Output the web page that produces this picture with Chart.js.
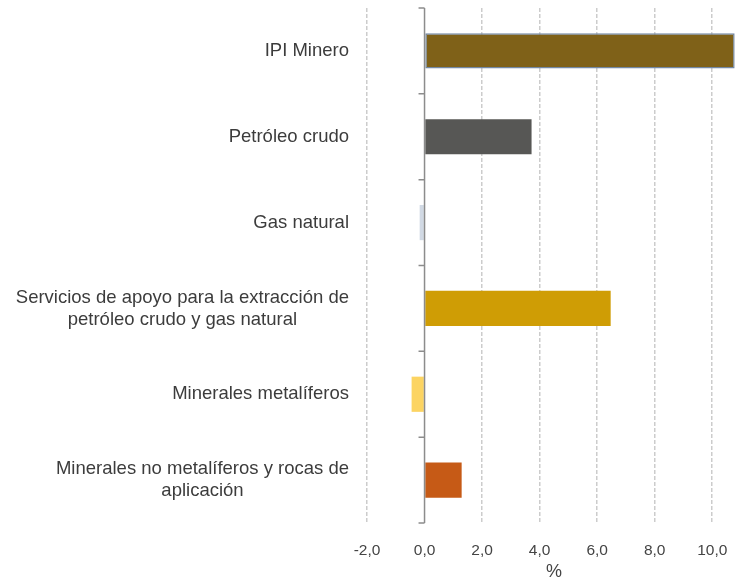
<!DOCTYPE html>
<html>
<head>
<meta charset="utf-8">
<script src="https://cdn.jsdelivr.net/npm/chart.js@4.4.1/dist/chart.umd.min.js"></script>
<style>
  html, body { margin: 0; padding: 0; background: #fff; }
  #wrap { width: 742px; height: 580px; }
</style>
</head>
<body>
<div id="wrap"><canvas id="chart"></canvas></div>
<script>
const categories = [
  "IPI Minero",
  "Petróleo crudo",
  "Gas natural",
  ["Servicios de apoyo para la extracción de", "petróleo crudo y gas natural"],
  "Minerales metalíferos",
  ["Minerales no metalíferos y rocas de", "aplicación"]
];
const values = [10.78, 3.72, -0.17, 6.47, -0.45, 1.29];
const barColors = ["#7f6118", "#575755", "#d1d9e4", "#cf9d05", "#fcd462", "#c65a16"];
const borderColors = ["#7388a3", "#575755", "#d1d9e4", "#cf9d05", "#fcd462", "#c65a16"];
const borderWidths = [1.5, 0, 0, 0, 0, 0];
const xTicks = [-2, 0, 2, 4, 6, 8, 10];
const xTitle = "%";

const labelFont = "18.5px 'Liberation Sans', Arial, sans-serif";

// vertical axis line at zero with short ticks between categories
const zeroAxis = {
  id: "zeroAxis",
  afterDatasetsDraw(chart) {
    const { ctx, chartArea, scales } = chart;
    const x0 = scales.x.getPixelForValue(0);
    ctx.save();
    ctx.strokeStyle = "#8c8c8c";
    ctx.lineWidth = 1.5;
    ctx.beginPath();
    ctx.moveTo(x0, chartArea.top);
    ctx.lineTo(x0, chartArea.bottom);
    for (let i = 0; i <= categories.length; i++) {
      const y = scales.y.getPixelForValue(i - 0.5);
      ctx.moveTo(x0 - 6, y);
      ctx.lineTo(x0, y);
    }
    ctx.stroke();
    ctx.restore();
  }
};

// category labels: block right aligned, lines centred inside the block
const catLabels = {
  id: "catLabels",
  afterDraw(chart) {
    const { ctx, chartArea, scales } = chart;
    const right = chartArea.left - 18;
    const lh = 22;
    ctx.save();
    ctx.font = labelFont;
    ctx.fillStyle = "#3c3c3c";
    ctx.textAlign = "center";
    ctx.textBaseline = "middle";
    categories.forEach((lab, i) => {
      const lines = Array.isArray(lab) ? lab : [lab];
      const w = Math.max(...lines.map(l => ctx.measureText(l).width));
      const cx = right - w / 2;
      const yc = scales.y.getPixelForValue(i);
      lines.forEach((l, j) => {
        ctx.fillText(l, cx, yc + (j - (lines.length - 1) / 2) * lh);
      });
    });
    ctx.restore();
  }
};

new Chart(document.getElementById("chart"), {
  type: "bar",
  data: {
    labels: categories,
    datasets: [{
      data: values,
      backgroundColor: barColors,
      borderColor: borderColors,
      borderWidth: borderWidths,
      borderSkipped: false,
      barPercentage: 0.41,
      categoryPercentage: 1
    }]
  },
  options: {
    indexAxis: "y",
    responsive: true,
    maintainAspectRatio: false,
    animation: false,
    layout: { padding: { top: 8, right: 1, left: 0, bottom: 0 } },
    plugins: { legend: { display: false }, tooltip: { enabled: false } },
    scales: {
      x: {
        min: -2,
        max: 11,
        afterBuildTicks: (s) => { s.ticks = xTicks.map(v => ({ value: v })); },
        afterFit: (s) => { s.height = 57; s.paddingLeft = 0; s.paddingRight = 0; },
        border: { display: false, dash: [4, 2] },
        grid: {
          drawTicks: false,
          color: (c) => c.tick && c.tick.value === 0 ? "rgba(0,0,0,0)" : "#cccccc",
          lineWidth: 1.5
        },
        ticks: {
          padding: 18,
          color: "#444444",
          font: { family: "Liberation Sans", size: 15.5 },
          callback: (v) => v.toFixed(1).replace(".", ",")
        },
        title: {
          display: true,
          text: xTitle,
          color: "#444444",
          font: { family: "Liberation Sans", size: 18 },
          padding: { top: 2, bottom: -3 }
        }
      },
      y: {
        border: { display: false },
        grid: { display: false, drawTicks: false },
        afterFit: (s) => { s.width = 367; s.paddingTop = 0; s.paddingBottom = 0; },
        ticks: { display: false }
      }
    }
  },
  plugins: [zeroAxis, catLabels]
});
</script>
</body>
</html>
